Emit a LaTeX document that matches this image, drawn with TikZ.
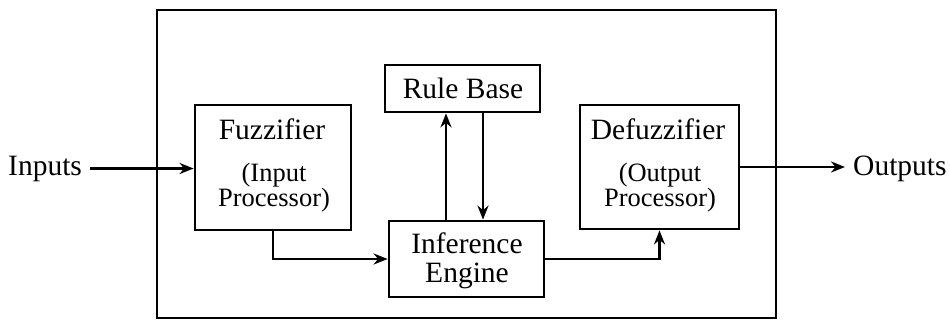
\documentclass[tikz,border=0pt]{standalone}
\usepackage{fontspec}
\setmainfont{Liberation Serif}
\usetikzlibrary{arrows.meta}
\begin{document}
\begin{tikzpicture}[x=1pt,y=-1pt,
  blockbox/.style={draw, line width=2.8pt, inner sep=0pt},
  title/.style={inner sep=0pt, anchor=base, font=\fontsize{29.5}{30}\selectfont},
  subtitle/.style={inner sep=0pt, anchor=base, font=\fontsize{26.5}{27}\selectfont},
  ioText/.style={inner sep=0pt, font=\fontsize{29.5}{30}\selectfont},
  flow/.style={line width=2.6pt, -{Stealth[length=14pt,width=11pt]}}]
  \useasboundingbox (0,0) rectangle (950,321);

  % enclosing system frame
  \node[draw, line width=2.4pt, minimum width=619pt, minimum height=308pt, inner sep=0pt] (frame) at (466.5,164) {};

  % processing blocks
  \node[blockbox, minimum width=156pt, minimum height=125pt] (fuzz) at (273,167.5) {};
  \node[blockbox, minimum width=155pt, minimum height=47pt]  (rb)   at (462.5,88.5) {};
  \node[blockbox, minimum width=155pt, minimum height=76pt]  (inf)  at (466.5,259) {};
  \node[blockbox, minimum width=159pt, minimum height=124pt] (defz) at (659.5,167) {};

  % block texts
  \node[title]    (fuzzT)  at (272,139) {Fuzzifier};
  \node[subtitle] (fuzzS1) at (274,181) {(Input};
  \node[subtitle] (fuzzS2) at (274,206) {Processor)};
  \node[title]    (rbT)    at (463,99)  {Rule Base};
  \node[title]    (infT1)  at (467,253) {Inference};
  \node[title]    (infT2)  at (467,282) {Engine};
  \node[title]    (defzT)  at (658,139) {Defuzzifier};
  \node[subtitle] (defzS1) at (660,181) {(Output};
  \node[subtitle] (defzS2) at (660,206) {Processor)};

  % external signals
  \node[ioText, anchor=west] (inputs)  at (8,168.5)   {Inputs};
  \node[ioText, anchor=west] (outputs) at (853,168.5) {Outputs};

  % connectors
  \draw[flow, shorten <=8pt] (inputs.east) -- (inputs.east -| fuzz.west);
  \draw[flow] (fuzz.south) |- (inf.west);
  \draw[flow] ([xshift=-20.5pt]inf.north) -- ([xshift=-20.5pt]inf.north |- rb.south);
  \draw[flow] ([xshift=16.5pt]inf.north |- rb.south) -- ([xshift=16.5pt]inf.north);
  \draw[flow] (inf.east) -| (defz.south);
  \draw[flow, shorten >=8pt] (defz.east) -- (defz.east -| outputs.west);
\end{tikzpicture}
\end{document}
